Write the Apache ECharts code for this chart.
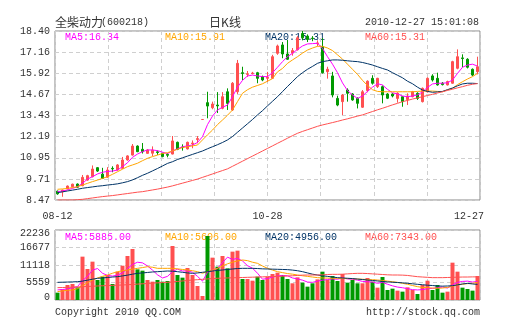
<!DOCTYPE html>
<html><head><meta charset="utf-8">
<script src="https://cdn.jsdelivr.net/npm/echarts@6/dist/echarts.min.js"></script>
<style>html,body{margin:0;padding:0;background:#fff}#c{width:505px;height:330px}</style>
</head><body><div id="c"></div>
<script>
// ---------- data ----------
const dates = ['08-12','08-13','08-16','08-17','08-18','08-19','08-20','08-23','08-24','08-25','08-26','08-27','08-30','08-31',
'09-01','09-02','09-03','09-06','09-07','09-08','09-09','09-10','09-13','09-14','09-15','09-16','09-17','09-20','09-21',
'10-11','10-12','10-13','10-14','10-15','10-18','10-19','10-20','10-21','10-22','10-25','10-26','10-27','10-28','10-29',
'11-01','11-02','11-03','11-04','11-05','11-08','11-09','11-10','11-11','11-12','11-15','11-16','11-17','11-18','11-19',
'11-22','11-23','11-24','11-25','11-26','11-29','11-30',
'12-01','12-02','12-03','12-06','12-07','12-08','12-09','12-10','12-13','12-14','12-15','12-16','12-17','12-20','12-21','12-22','12-23','12-24','12-27'];
// [open, close, low, high]
const ohlc = [
[8.99,8.83,8.78,9.02],[8.95,9.05,8.66,9.08],[9.12,9.29,9.10,9.32],[9.25,9.40,9.22,9.43],[9.41,9.22,9.18,9.44],
[9.31,9.80,9.28,9.94],[9.64,9.90,9.60,9.95],[9.84,10.29,9.80,10.50],[10.37,10.17,10.12,10.40],[9.99,9.74,9.70,10.36],
[9.81,10.23,9.78,10.40],[10.33,10.30,10.10,10.45],[10.23,10.53,10.20,10.58],[10.33,10.82,10.30,11.00],[10.82,11.06,10.78,11.10],
[11.11,11.64,11.08,11.76],[11.64,11.31,11.28,11.68],[11.45,11.31,11.20,11.82],[11.21,11.41,11.18,11.46],[11.22,11.40,11.05,11.62],
[11.30,11.26,11.12,11.38],[11.21,11.02,10.98,11.25],[11.15,11.10,10.98,11.23],[11.17,11.94,11.15,12.23],[11.86,11.45,11.40,11.90],
[11.58,11.55,11.37,11.74],[11.47,11.86,11.44,11.90],[11.78,11.82,11.51,11.97],[12.02,12.08,11.80,12.23],[13.20,13.20,13.20,13.20],
[14.19,13.99,13.27,14.83],[13.89,14.11,13.80,14.25],[14.05,14.00,13.58,14.81],[13.86,14.54,13.80,14.81],[14.83,14.15,13.76,15.03],
[13.76,15.33,13.70,15.40],[14.83,16.50,14.70,16.70],[15.95,15.90,15.52,16.30],[15.85,15.89,15.70,16.05],[15.90,15.93,15.85,16.00],
[15.95,15.62,15.33,16.00],[15.72,15.52,15.45,15.78],[15.62,15.68,15.40,16.00],[15.62,16.89,15.58,17.00],[17.09,17.52,17.00,17.60],
[17.58,17.05,16.80,17.75],[17.05,16.74,16.70,17.87],[17.10,17.25,16.95,17.40],[17.30,18.00,17.25,18.10],[18.25,18.00,17.85,18.40],
[18.10,17.90,17.75,18.20],[17.98,17.95,17.80,18.10],[17.66,17.70,17.50,17.85],[17.48,15.95,15.90,17.99],[16.01,16.15,15.60,16.30],
[15.76,14.64,14.50,16.00],[14.44,14.05,13.98,14.60],[14.25,14.64,13.46,14.70],[14.93,14.74,14.25,15.03],[14.70,14.35,14.30,14.75],
[14.44,14.15,13.85,14.50],[13.92,14.83,13.88,14.93],[14.90,15.45,14.80,15.50],[15.62,15.33,15.25,15.80],[15.13,15.62,15.05,15.65],
[15.13,14.64,14.15,15.20],[14.70,14.45,14.40,14.75],[14.70,14.58,14.50,14.75],[14.44,14.74,14.19,14.80],[14.54,14.25,13.95,14.58],
[14.37,14.58,14.05,14.74],[14.54,14.83,14.50,14.88],[14.74,14.44,14.35,14.80],[14.25,15.03,14.20,15.08],[14.83,15.62,14.78,15.68],
[15.76,15.52,15.43,15.86],[15.62,15.23,15.19,15.95],[15.33,15.25,15.20,15.40],[15.23,15.43,15.20,15.48],[15.33,16.60,15.30,16.65],
[16.21,16.89,16.15,17.32],[16.82,16.78,16.27,17.03],[16.74,16.27,16.20,16.80],[16.15,15.81,15.75,16.20],[16.01,16.30,15.85,16.89]];
const volumes = [2330,3390,4770,5080,4020,13770,9850,12180,6350,7410,
7940,5080,9000,10900,13980,16200,9740,9320,6350,5820,
6350,5820,6040,17150,7940,7100,10170,7940,4450,1270,
20330,13450,10590,13980,10060,15360,15670,6670,6670,6140,
7410,6350,7410,8260,8680,7940,6670,5300,7200,5510,
4240,5300,6560,9000,6350,7620,6040,8260,5510,6350,
5300,5300,6990,5820,3920,7310,3180,3600,2970,2650,
4020,3180,1910,4770,6140,3180,4770,2330,2650,11860,
9000,3920,3500,2970,7620];
const ma5 = [8.96,9.00,9.06,9.15,9.25,9.45,9.70,9.84,10.00,10.10,
10.15,10.17,10.23,10.43,10.66,10.98,11.17,11.31,11.41,11.41,
11.37,11.28,11.20,11.35,11.48,11.60,11.65,11.70,11.85,12.19,
12.90,13.40,13.76,13.92,14.05,14.54,15.10,15.50,15.76,15.81,
15.76,15.72,15.72,15.95,16.27,16.60,16.89,17.09,17.32,17.52,
17.64,17.66,17.68,17.38,16.89,16.45,15.95,15.35,14.90,14.64,
14.44,14.58,14.85,15.10,15.30,15.23,14.97,14.77,14.70,14.58,
14.54,14.58,14.64,14.83,15.09,15.29,15.33,15.33,15.36,15.52,
15.91,16.27,16.40,16.45,16.34];
const ma10 = [9.10,9.12,9.15,9.20,9.25,9.35,9.45,9.55,9.64,9.74,
9.84,9.98,10.13,10.28,10.43,10.53,10.63,10.78,10.92,11.02,
11.11,11.20,11.25,11.35,11.45,11.55,11.60,11.65,11.70,12.00,
12.30,12.58,12.90,13.17,13.45,13.76,14.25,14.74,14.95,15.10,
15.20,15.30,15.45,15.60,16.00,16.20,16.50,16.70,16.89,17.10,
17.28,17.40,17.50,17.50,17.40,17.25,17.00,16.75,16.45,16.15,
15.85,15.50,15.20,14.95,14.85,14.83,14.83,14.83,14.83,14.83,
14.83,14.83,14.85,14.87,14.87,14.87,14.85,14.83,14.95,15.03,
15.25,15.42,15.58,15.72,15.91];
const ma20 = [8.90,8.95,9.00,9.05,9.10,9.16,9.20,9.24,9.28,9.31,
9.35,9.38,9.42,9.48,9.55,9.65,9.78,9.92,10.04,10.18,
10.32,10.47,10.62,10.72,10.85,10.95,11.05,11.15,11.25,11.35,
11.48,11.60,11.72,11.85,12.00,12.20,12.45,12.70,12.95,13.20,
13.47,13.72,14.00,14.27,14.54,14.84,15.14,15.43,15.72,15.95,
16.15,16.32,16.50,16.60,16.65,16.70,16.70,16.68,16.65,16.62,
16.60,16.55,16.48,16.40,16.30,16.20,16.11,15.95,15.80,15.65,
15.45,15.30,15.10,14.93,14.85,14.80,14.82,14.85,14.95,15.05,
15.18,15.29,15.33,15.33,15.31];
const ma60 = [8.47,8.47,8.47,8.47,8.49,8.51,8.55,8.59,8.63,8.67,
8.70,8.73,8.77,8.81,8.85,8.89,8.93,8.96,9.01,9.06,
9.11,9.17,9.23,9.30,9.38,9.46,9.54,9.62,9.70,9.80,
9.90,10.00,10.10,10.20,10.30,10.45,10.60,10.75,10.90,11.05,
11.20,11.35,11.50,11.65,11.80,11.95,12.10,12.25,12.39,12.50,
12.60,12.70,12.80,12.88,12.95,13.02,13.09,13.17,13.24,13.32,
13.40,13.47,13.57,13.67,13.77,13.86,13.96,14.06,14.15,14.25,
14.32,14.40,14.47,14.54,14.61,14.68,14.76,14.83,14.91,14.98,
15.06,15.13,15.21,15.27,15.31];
const vma5 = [3200,3350,3500,3900,4250,6200,7500,9500,10000,8500,
7800,7600,7900,8600,10000,11300,12000,11800,10800,9500,
8000,7000,7500,9000,9800,9200,9300,8800,7500,6000,
8800,9500,10000,11900,13600,12900,13200,12400,10900,10100,
8500,6600,6800,7300,7600,7800,7700,7000,6700,6300,
5700,5600,6000,6300,6500,6700,6600,7000,6700,6600,
6300,5900,5800,5700,5300,5600,5000,4500,4100,3900,
3600,3300,3200,3300,3600,3700,3900,4100,3800,4800,
5600,5900,6000,5700,5885];
const vma10 = [2650,2900,3100,3180,3600,4500,5500,6350,7000,7500,
7940,8500,9000,9300,9530,9800,10060,10300,10590,10400,
10060,10060,10060,10060,9900,9700,9530,9300,9000,8500,
9000,9500,10060,10800,11500,12000,12400,12710,12500,12000,
11650,10800,10060,9500,9000,8700,8400,8200,7940,7700,
7500,7300,7100,7000,6950,6900,6880,6850,6800,6750,
6670,6600,6500,6450,6350,6200,6000,5800,5610,5300,
5000,4600,4240,4000,3900,3800,3710,3800,4000,4400,
4770,5000,5200,5300,5606];
const vma20 = [5610,5650,5700,5750,5820,6000,6300,6600,6880,7000,
7150,7300,7410,7650,7900,8200,8470,8600,8750,8900,
9000,9100,9210,9150,9000,8800,8600,8470,8600,8800,
9000,9200,9400,9530,9700,9850,10000,10060,10060,10060,
10000,9900,9850,9800,9750,9700,9650,9500,9300,9000,
8600,8200,7940,7700,7500,7300,7100,7000,6900,6800,
6650,6500,6350,6200,6050,5900,5750,5650,5550,5450,
5300,5150,4980,4850,4700,4600,4450,4400,4450,4550,
4800,5100,5290,5100,4956];
const vma60 = [3920,3970,4020,4080,4150,4220,4300,4370,4450,4520,
4600,4650,4700,4770,4850,4950,5050,5150,5250,5350,
5450,5550,5610,5750,5900,6050,6200,6350,6450,6570,
6700,6800,6900,6950,7000,7050,7100,7150,7200,7250,
7300,7350,7410,7450,7500,7550,7620,7700,7800,7900,
7940,7940,7940,8000,8100,8150,8150,8200,8300,8400,
8470,8470,8400,8300,8200,8100,8000,7940,7940,7900,
7800,7600,7410,7300,7200,7100,7100,7100,7150,7200,
7250,7300,7300,7343,7343];
const priceTicks = ['8.47','9.71','10.95','12.19','13.43','14.67','15.92','17.16','18.40'];
const volTicks = ['0','5559','11118','16677','22236'];
const xTickIndex = [0, 42, 84];
const priceLegend = [['MA5','16.34'],['MA10','15.91'],['MA20','15.31'],['MA60','15.31']];
const volLegend = [['MA5','5885.00'],['MA10','5606.00'],['MA20','4956.00'],['MA60','7343.00']];
const stockName = '全柴动力';
const stockCode = '(600218)';
const chartTitle = '日K线';
const timeStamp = '2010-12-27 15:01:08';
const footerLeft = 'Copyright 2010 QQ.COM';
const footerRight = 'http://stock.qq.com';

// ---------- style ----------
const MONO = '"Liberation Mono","DejaVu Sans Mono",monospace';
const CJK = '"Noto Sans CJK SC",sans-serif';
const TXT = '#333';
const RED = '#ff5050', GREEN = '#009900';
const MA_COLORS = ['#ff00ff', '#ffa500', '#003366', '#ff5050'];
const DASH = {show: true, lineStyle: {color: '#cfcfcf', type: [4, 3], width: 1}};
const PMIN = 8.47, PMAX = 18.40, PSTEP = (PMAX - PMIN) / 8;
const VMAX = 22236, VSTEP = 5559;
const L = 55, R = 25, PT = 31, PH = 169, VT = 230, VH = 70;

function dir(i) {
  const o = ohlc[i][0], c = ohlc[i][1];
  if (c > o) return 1;
  if (c < o) return -1;
  return i > 0 && ohlc[i - 1][1] <= c ? 1 : -1;
}

const chart = echarts.init(document.getElementById('c'), null, {renderer: 'canvas'});

function hiddenVal(grid) {
  return {type: 'value', gridIndex: grid, min: 0, max: 8, interval: 1, position: 'top',
    axisLine: {show: false}, axisTick: {show: false}, axisLabel: {show: false}, splitLine: DASH};
}
function legendTexts(items, y) {
  return items.map((it, k) => ({
    type: 'text', x: 65 + 100 * k, y: y, silent: true,
    style: {text: it[0] + ':' + it[1], fill: MA_COLORS[k], font: '10px ' + MONO, align: 'left', verticalAlign: 'middle'}
  }));
}
function maLine(name, data, k, xi, yi) {
  return {type: 'line', name: name, data: data, xAxisIndex: xi, yAxisIndex: yi, symbol: 'none', silent: true,
    lineStyle: {width: 1, color: MA_COLORS[k]}, itemStyle: {color: MA_COLORS[k]}, z: 3};
}

const option = {
  animation: false,
  backgroundColor: '#fff',
  grid: [
    {left: L, right: R, top: PT, height: PH, show: true, borderColor: '#888', borderWidth: 1},
    {left: L, right: R, top: VT, height: VH, show: true, borderColor: '#888', borderWidth: 1}
  ],
  xAxis: [
    {type: 'category', gridIndex: 0, data: dates, boundaryGap: true,
      axisLine: {show: false}, axisTick: {show: false}, splitLine: {show: false},
      axisLabel: {
        interval: (i) => xTickIndex.indexOf(i) >= 0,
        formatter: (v, i) => i === xTickIndex[2] ? '{r|' + v + '}' : '{n|' + v + '}',
        margin: 11, color: TXT, fontFamily: MONO, fontSize: 10,
        rich: {n: {fontFamily: MONO, fontSize: 10, color: TXT},
               r: {fontFamily: MONO, fontSize: 10, color: TXT, padding: [0, 17, 0, 0]}}
      }},
    hiddenVal(0),
    {type: 'category', gridIndex: 1, data: dates, boundaryGap: true,
      axisLine: {show: false}, axisTick: {show: false}, axisLabel: {show: false}, splitLine: {show: false}},
    hiddenVal(1)
  ],
  yAxis: [
    {type: 'value', gridIndex: 0, min: PMIN, max: PMAX, interval: PSTEP, scale: true,
      axisLine: {show: false}, axisTick: {show: false}, splitLine: DASH,
      axisLabel: {margin: 5, color: TXT, fontFamily: MONO, fontSize: 10,
        formatter: (v) => priceTicks[Math.round((v - PMIN) / PSTEP)]}},
    {type: 'value', gridIndex: 1, min: 0, max: VMAX, interval: VSTEP,
      axisLine: {show: false}, axisTick: {show: false}, splitLine: DASH,
      axisLabel: {margin: 5, color: TXT, fontFamily: MONO, fontSize: 10,
        formatter: (v) => {
          const k = Math.round(v / VSTEP);
          const s = volTicks[k];
          return k === 0 ? '{b|' + s + '}' : (k === volTicks.length - 1 ? '{t|' + s + '}' : '{n|' + s + '}');
        },
        rich: {n: {fontFamily: MONO, fontSize: 10, color: TXT},
               t: {fontFamily: MONO, fontSize: 10, color: TXT, padding: [6, 0, 0, 0]},
               b: {fontFamily: MONO, fontSize: 10, color: TXT, padding: [0, 0, 6, 0]}}}}
  ],
  series: [
    {type: 'candlestick', name: 'K', data: ohlc.map(d => [d[0], d[1], d[2], d[3]]), xAxisIndex: 0, yAxisIndex: 0,
      barWidth: 3, silent: true, z: 2,
      itemStyle: {color: RED, color0: GREEN, borderColor: RED, borderColor0: GREEN, borderColorDoji: RED, borderWidth: 1}},
    maLine('MA5', ma5, 0, 0, 0),
    maLine('MA10', ma10, 1, 0, 0),
    maLine('MA20', ma20, 2, 0, 0),
    maLine('MA60', ma60, 3, 0, 0),
    {type: 'bar', name: 'VOL', xAxisIndex: 2, yAxisIndex: 1, barWidth: 4, silent: true, z: 2,
      data: volumes.map((v, i) => ({value: v, itemStyle: {color: dir(i) > 0 ? RED : GREEN}}))},
    maLine('VMA5', vma5, 0, 2, 1),
    maLine('VMA10', vma10, 1, 2, 1),
    maLine('VMA20', vma20, 2, 2, 1),
    maLine('VMA60', vma60, 3, 2, 1)
  ],
  graphic: [
    {type: 'text', x: 55, y: 22, silent: true,
      style: {text: stockName, fill: TXT, font: '12px ' + CJK, align: 'left', verticalAlign: 'middle'}},
    {type: 'text', x: 101, y: 22, silent: true,
      style: {text: stockCode, fill: TXT, font: '10px ' + MONO, align: 'left', verticalAlign: 'middle'}},
    {type: 'text', x: 225, y: 22, silent: true,
      style: {text: chartTitle, fill: TXT, font: '12px ' + CJK, align: 'center', verticalAlign: 'middle'}},
    {type: 'text', x: 479, y: 22, silent: true,
      style: {text: timeStamp, fill: TXT, font: '10px ' + MONO, align: 'right', verticalAlign: 'middle'}},
    ...legendTexts(priceLegend, 37),
    ...legendTexts(volLegend, 237),
    {type: 'text', x: 55, y: 312, silent: true,
      style: {text: footerLeft, fill: TXT, font: '10px ' + MONO, align: 'left', verticalAlign: 'middle'}},
    {type: 'text', x: 480, y: 312, silent: true,
      style: {text: footerRight, fill: TXT, font: '10px ' + MONO, align: 'right', verticalAlign: 'middle'}}
  ]
};
chart.setOption(option);
</script>
</body></html>
